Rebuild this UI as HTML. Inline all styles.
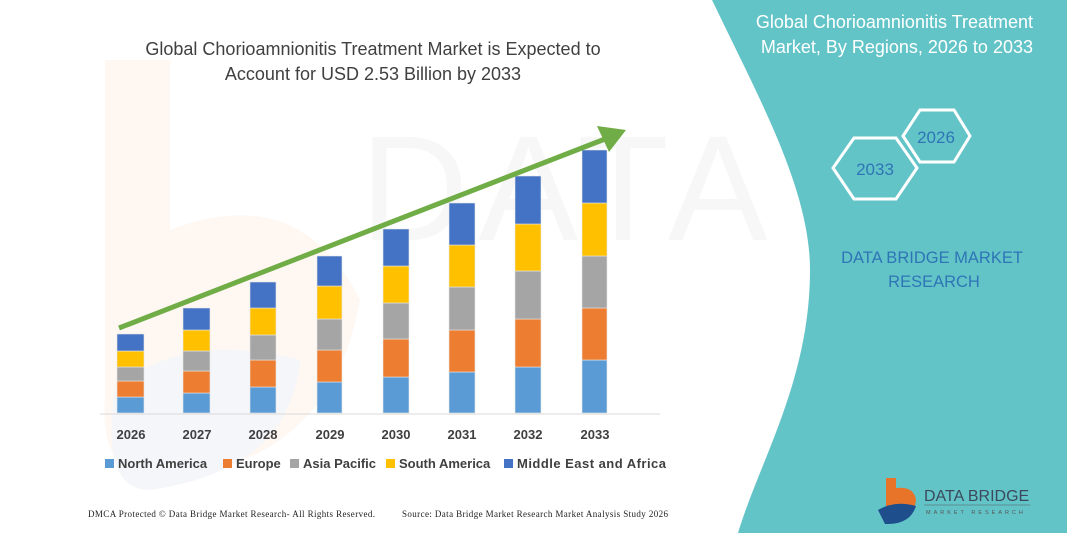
<!DOCTYPE html>
<html><head><meta charset="utf-8"><style>
html,body{margin:0;padding:0;background:#fff;}
body{width:1067px;height:533px;overflow:hidden;position:relative;font-family:"Liberation Sans",sans-serif;}
</style></head><body>
<svg width="1067" height="533" viewBox="0 0 1067 533" xmlns="http://www.w3.org/2000/svg" style="position:absolute;left:0;top:0">
<!-- watermark -->
<text x="360" y="240" font-size="150" fill="#f7f7f7" font-family="Liberation Sans" letter-spacing="10">DATA BRIDGE</text>
<path d="M105,60 L170,60 L170,230 Q300,180 360,300 Q330,470 150,480 Q100,470 105,400 Z" fill="#fef7f2"/>
<path d="M115,390 Q180,330 300,360 Q290,470 150,490 Q100,490 115,390 Z" fill="#f4f6fa"/>
<!-- right panel -->
<path d="M712,0 C760,100 810,190 810,270 C810,380 760,460 738,533 L1067,533 L1067,0 Z" fill="#63c4c8"/>
<text x="1033" y="28" font-size="18" fill="#fff" text-anchor="end">Global Chorioamnionitis Treatment</text>
<text x="1033" y="53" font-size="18" fill="#fff" text-anchor="end">Market, By Regions, 2026 to 2033</text>
<polygon points="903,136 920,110 954,110 970,136 954,162 920,162" fill="none" stroke="#fff" stroke-width="3"/>
<text x="936" y="143" font-size="17" fill="#2e75b6" text-anchor="middle">2026</text>
<polygon points="833,168 854,138 896,138 917,168 896,199 854,199" fill="none" stroke="#fff" stroke-width="3"/>
<text x="875" y="175" font-size="17" fill="#2e75b6" text-anchor="middle">2033</text>
<text x="932" y="263" font-size="16.5" fill="#2e75b6" text-anchor="middle">DATA BRIDGE MARKET</text>
<text x="934" y="287" font-size="16.5" fill="#2e75b6" text-anchor="middle">RESEARCH</text>
<!-- logo -->
<path d="M886,478 L896,478 L896,488 Q914,486 916,500 Q914,518 896,518 L886,518 Z" fill="#e8742a"/>
<path d="M878,510 Q895,500 916,506 Q910,525 885,524 Z" fill="#1f4e8c"/>
<text x="924" y="501" font-size="16" fill="#3a4a5c">DATA BRIDGE</text>
<line x1="924" y1="505" x2="1030" y2="505" stroke="#555" stroke-width="0.6"/>
<text x="926" y="514" font-size="5.5" fill="#555" letter-spacing="3">MARKET RESEARCH</text>
<!-- title -->
<text x="373" y="55" font-size="18" fill="#404040" text-anchor="middle">Global Chorioamnionitis Treatment Market is Expected to</text>
<text x="373" y="80" font-size="18" fill="#404040" text-anchor="middle">Account for USD 2.53 Billion by 2033</text>
<!-- axis -->
<line x1="100" y1="414" x2="660" y2="414" stroke="#d9d9d9" stroke-width="1"/>
<g stroke="#e6e6e6" stroke-width="0.6">
<rect x="117" y="397" width="27" height="16" fill="#5b9bd5"/><rect x="117" y="381" width="27" height="16" fill="#ed7d31"/><rect x="117" y="367" width="27" height="14" fill="#a5a5a5"/><rect x="117" y="351" width="27" height="16" fill="#ffc000"/><rect x="117" y="334" width="27" height="17" fill="#4472c4"/>
<rect x="183" y="393" width="27" height="20" fill="#5b9bd5"/><rect x="183" y="371" width="27" height="22" fill="#ed7d31"/><rect x="183" y="351" width="27" height="20" fill="#a5a5a5"/><rect x="183" y="330" width="27" height="21" fill="#ffc000"/><rect x="183" y="308" width="27" height="22" fill="#4472c4"/>
<rect x="250" y="387" width="26" height="26" fill="#5b9bd5"/><rect x="250" y="360" width="26" height="27" fill="#ed7d31"/><rect x="250" y="335" width="26" height="25" fill="#a5a5a5"/><rect x="250" y="308" width="26" height="27" fill="#ffc000"/><rect x="250" y="282" width="26" height="26" fill="#4472c4"/>
<rect x="317" y="382" width="25" height="31" fill="#5b9bd5"/><rect x="317" y="350" width="25" height="32" fill="#ed7d31"/><rect x="317" y="319" width="25" height="31" fill="#a5a5a5"/><rect x="317" y="286" width="25" height="33" fill="#ffc000"/><rect x="317" y="256" width="25" height="30" fill="#4472c4"/>
<rect x="383" y="377" width="26" height="36" fill="#5b9bd5"/><rect x="383" y="339" width="26" height="38" fill="#ed7d31"/><rect x="383" y="303" width="26" height="36" fill="#a5a5a5"/><rect x="383" y="266" width="26" height="37" fill="#ffc000"/><rect x="383" y="229" width="26" height="37" fill="#4472c4"/>
<rect x="449" y="372" width="26" height="41" fill="#5b9bd5"/><rect x="449" y="330" width="26" height="42" fill="#ed7d31"/><rect x="449" y="287" width="26" height="43" fill="#a5a5a5"/><rect x="449" y="245" width="26" height="42" fill="#ffc000"/><rect x="449" y="203" width="26" height="42" fill="#4472c4"/>
<rect x="515" y="367" width="26" height="46" fill="#5b9bd5"/><rect x="515" y="319" width="26" height="48" fill="#ed7d31"/><rect x="515" y="271" width="26" height="48" fill="#a5a5a5"/><rect x="515" y="224" width="26" height="47" fill="#ffc000"/><rect x="515" y="176" width="26" height="48" fill="#4472c4"/>
<rect x="582" y="360" width="25" height="53" fill="#5b9bd5"/><rect x="582" y="308" width="25" height="52" fill="#ed7d31"/><rect x="582" y="256" width="25" height="52" fill="#a5a5a5"/><rect x="582" y="203" width="25" height="53" fill="#ffc000"/><rect x="582" y="150" width="25" height="53" fill="#4472c4"/>
</g>
<!-- arrow -->
<line x1="119" y1="328" x2="605" y2="139" stroke="#70ad47" stroke-width="5"/>
<polygon points="626,130 597,126 609,152" fill="#70ad47"/>
<!-- x labels -->
<g font-size="13" font-weight="bold" fill="#404040" text-anchor="middle">
<text x="131" y="439">2026</text><text x="197" y="439">2027</text><text x="263" y="439">2028</text><text x="330" y="439">2029</text><text x="396" y="439">2030</text><text x="462" y="439">2031</text><text x="528" y="439">2032</text><text x="595" y="439">2033</text>
</g>
<!-- legend -->
<g font-size="13" font-weight="bold" fill="#404040">
<rect x="105" y="459" width="9" height="9" fill="#5b9bd5"/><text x="118" y="468">North America</text>
<rect x="223" y="459" width="9" height="9" fill="#ed7d31"/><text x="236" y="468">Europe</text>
<rect x="290" y="459" width="9" height="9" fill="#a5a5a5"/><text x="303" y="468">Asia Pacific</text>
<rect x="386" y="459" width="9" height="9" fill="#ffc000"/><text x="399" y="468">South America</text>
<rect x="504" y="459" width="9" height="9" fill="#4472c4"/><text x="517" y="468" textLength="149">Middle East and Africa</text>
</g>
<text x="88" y="517" font-size="9" fill="#222" font-family="Liberation Serif" textLength="287">DMCA Protected © Data Bridge Market Research- All Rights Reserved.</text>
<text x="402" y="517" font-size="9" fill="#222" font-family="Liberation Serif" textLength="266">Source: Data Bridge Market Research Market Analysis Study 2026</text>
</svg>
</body></html>
